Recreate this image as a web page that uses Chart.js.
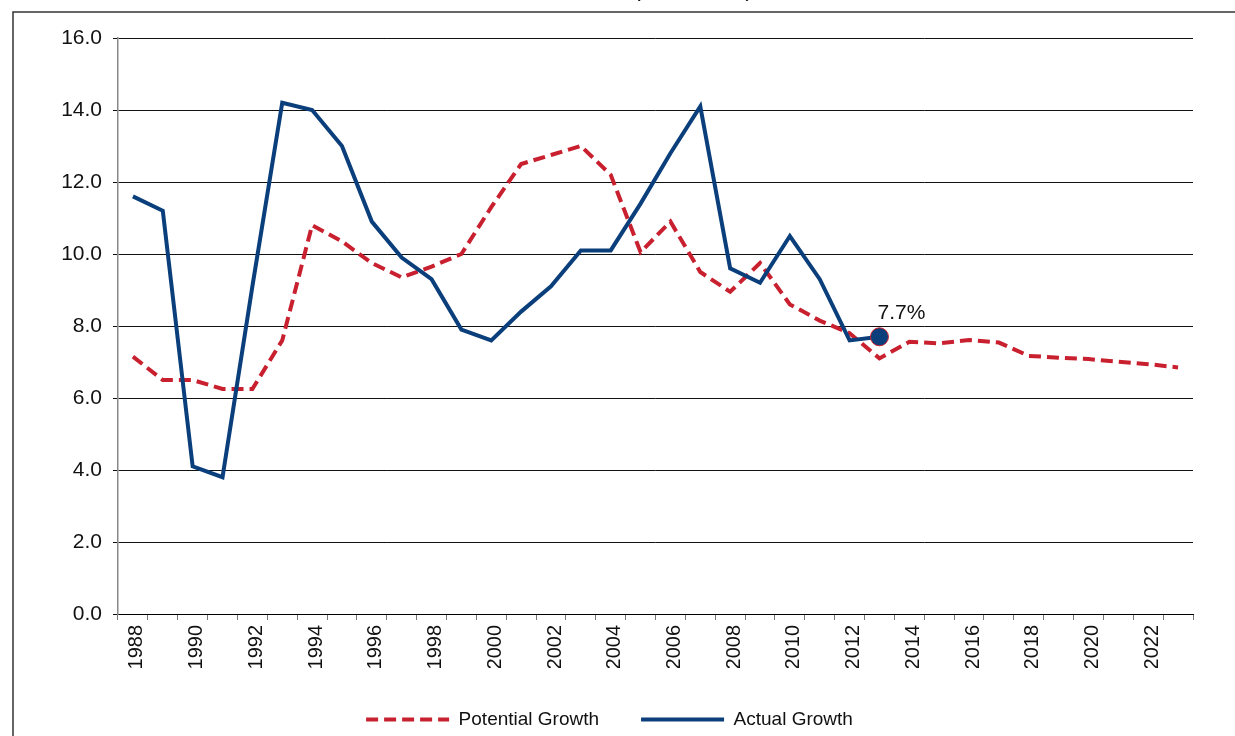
<!DOCTYPE html>
<html>
<head>
<meta charset="utf-8">
<title>Potential vs Actual Growth</title>
<script src="https://cdn.jsdelivr.net/npm/chart.js@4/dist/chart.umd.min.js"></script>
<style>
  html, body { margin: 0; padding: 0; background: #fff; overflow: hidden; }
  #wrap { width: 1235px; height: 736px; }
</style>
</head>
<body>
<div id="wrap"><canvas id="growthChart" width="1235" height="736"></canvas></div>
<script>
// Categories (years) and series
const years = ['1988','1989','1990','1991','1992','1993','1994','1995','1996','1997',
               '1998','1999','2000','2001','2002','2003','2004','2005','2006','2007',
               '2008','2009','2010','2011','2012','2013','2014','2015','2016','2017',
               '2018','2019','2020','2021','2022','2023'];

const potentialGrowth = [7.15, 6.5, 6.5, 6.25, 6.25, 7.6, 10.8, 10.35, 9.75, 9.35,
                         9.65, 10.0, 11.3, 12.5, 12.75, 13.0, 12.2, 10.05, 10.9, 9.5,
                         8.95, 9.75, 8.6, 8.15, 7.8, 7.1, 7.56, 7.52, 7.61, 7.54,
                         7.17, 7.12, 7.08, 7.01, 6.94, 6.85];

// actual data stops at 2013
const actualGrowth = [11.6, 11.2, 4.1, 3.8, 9.1, 14.2, 14.0, 13.0, 10.9, 9.9,
                      9.3, 7.9, 7.6, 8.4, 9.1, 10.1, 10.1, 11.4, 12.8, 14.1,
                      9.6, 9.2, 10.5, 9.3, 7.6, 7.7];

const yTicks = [0, 2, 4, 6, 8, 10, 12, 14, 16];
const lastActualLabel = '7.7%';

const BLUE = '#0b3f7b';
const RED = '#c8202f';
const FONT = "'Liberation Sans', Arial, sans-serif";

const lastIdx = actualGrowth.length - 1;

// frame + cut off subtitle + end label
const decorPlugin = {
    id: 'decor',
    beforeDraw(chart) {
        const ctx = chart.ctx;
        ctx.save();
        ctx.fillStyle = '#fff';
        ctx.fillRect(0, 0, chart.width, chart.height);
        ctx.strokeStyle = '#333';
        ctx.lineWidth = 1.5;
        ctx.strokeRect(13, 12, chart.width + 20, chart.height + 20);
        // subtitle sits above the visible area, only the very bottom shows
        ctx.font = '23px ' + FONT;
        ctx.fillStyle = '#111';
        ctx.textAlign = 'center';
        ctx.textBaseline = 'alphabetic';
        ctx.fillText('(In Percent)', 693, -4);
        ctx.restore();
    },
    afterDatasetsDraw(chart) {
        const ctx = chart.ctx;
        const x = chart.scales.x.getPixelForValue(lastIdx);
        const y = chart.scales.y.getPixelForValue(actualGrowth[lastIdx]);
        ctx.save();
        ctx.font = '21px ' + FONT;
        ctx.fillStyle = '#111';
        ctx.textAlign = 'center';
        ctx.textBaseline = 'alphabetic';
        ctx.fillText(lastActualLabel, x + 22, y - 18);
        ctx.restore();
    }
};

new Chart(document.getElementById('growthChart'), {
    type: 'line',
    data: {
        labels: years,
        datasets: [{
            label: 'Actual Growth',
            data: actualGrowth,
            borderColor: BLUE,
            backgroundColor: BLUE,
            borderWidth: 4,
            tension: 0,
            pointRadius: ctx => ctx.dataIndex === lastIdx ? 9 : 0,
            pointBackgroundColor: BLUE,
            pointBorderColor: RED,
            pointBorderWidth: 1,
            pointHoverRadius: 0
        }, {
            label: 'Potential Growth',
            data: potentialGrowth,
            borderColor: RED,
            backgroundColor: RED,
            borderWidth: 4,
            borderDash: [12, 6],
            tension: 0,
            pointRadius: 0,
            pointHoverRadius: 0
        }]
    },
    options: {
        responsive: false,
        animation: false,
        devicePixelRatio: 1,
        layout: {
            padding: { top: 38, left: 26, right: 42, bottom: -3 }
        },
        scales: {
            x: {
                type: 'category',
                offset: true,
                afterFit: function(scale) { scale.height = 54; },
                grid: {
                    offset: true,
                    drawOnChartArea: false,
                    drawTicks: true,
                    tickLength: 6,
                    color: '#777',
                    lineWidth: 1
                },
                border: { color: '#000', width: 1 },
                ticks: {
                    autoSkip: false,
                    minRotation: 90,
                    maxRotation: 90,
                    padding: 5,
                    labelOffset: 4,
                    color: '#111',
                    font: { family: FONT, size: 20 },
                    callback: function(value, index) {
                        const yr = years[index];
                        return (parseInt(yr, 10) % 2 === 0) ? yr : '';
                    }
                }
            },
            y: {
                min: yTicks[0],
                max: yTicks[yTicks.length - 1],
                afterFit: function(scale) { scale.width = 92; },
                afterBuildTicks: function(scale) {
                    scale.ticks = yTicks.map(v => ({ value: v }));
                },
                grid: {
                    color: '#111',
                    lineWidth: 1,
                    tickLength: 5
                },
                border: { color: '#888', width: 1.5 },
                ticks: {
                    padding: 11,
                    color: '#111',
                    font: { family: FONT, size: 21 },
                    callback: v => Number(v).toFixed(1)
                }
            }
        },
        plugins: {
            legend: {
                position: 'bottom',
                labels: {
                    usePointStyle: true,
                    pointStyle: 'line',
                    pointStyleWidth: 83,
                    boxHeight: 4,
                    padding: 42,
                    color: '#111',
                    font: { family: FONT, size: 19 },
                    generateLabels: function(chart) {
                        return chart.data.datasets.map((ds, i) => ({
                            text: ds.label,
                            fillStyle: ds.borderColor,
                            strokeStyle: ds.borderColor,
                            lineWidth: 4,
                            lineDash: ds.borderDash || [],
                            lineCap: 'butt',
                            pointStyle: 'line',
                            fontColor: '#111',
                            hidden: false,
                            datasetIndex: i
                        }));
                    },
                    sort: (a, b) => b.datasetIndex - a.datasetIndex
                }
            },
            tooltip: { enabled: false }
        }
    },
    plugins: [decorPlugin]
});
</script>
</body>
</html>
